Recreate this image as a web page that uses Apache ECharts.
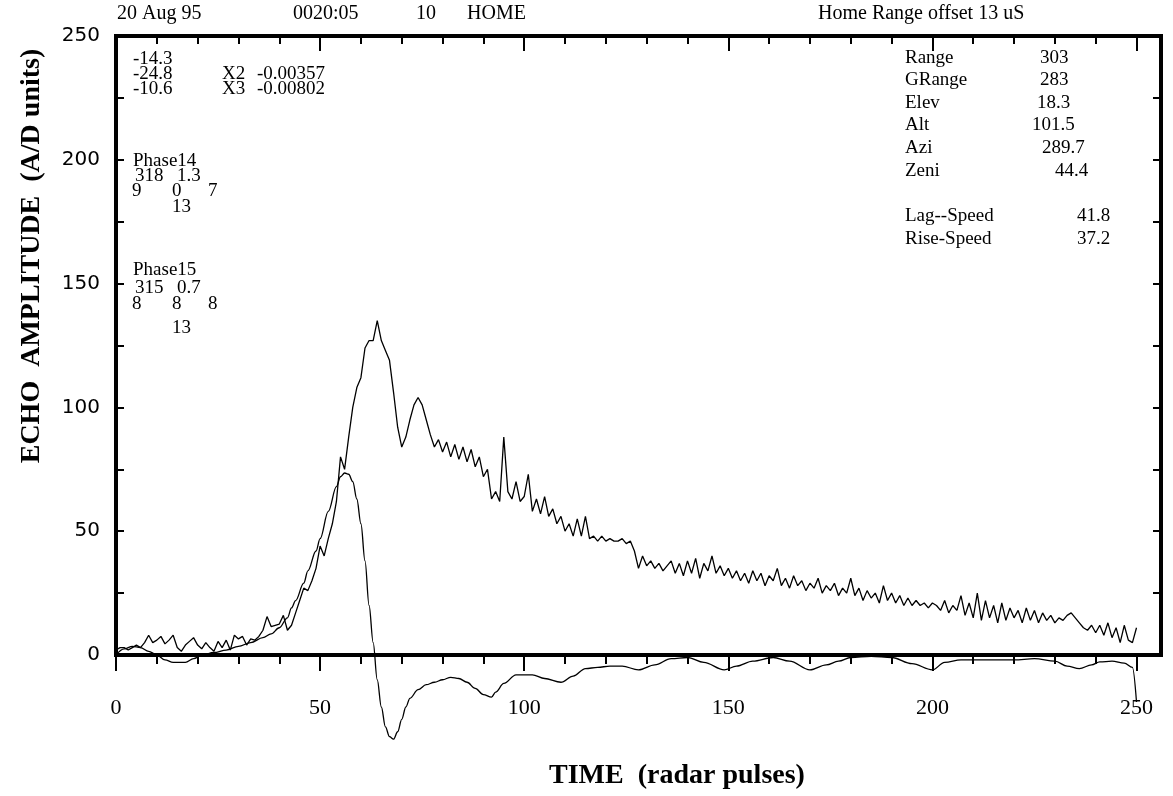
<!DOCTYPE html>
<html>
<head>
<meta charset="utf-8">
<title>Echo amplitude</title>
<script src="https://cdn.jsdelivr.net/npm/echarts@6/dist/echarts.min.js"></script>
<style>
  html, body { margin: 0; padding: 0; background: #fff; }
  #chart { width: 1173px; height: 796px; }
</style>
</head>
<body>
<div id="chart"></div>
<script>
// echo amplitude, one value per radar pulse (0..250)
const echo = [
  2, 3, 3, 2, 3, 4, 3, 5, 8, 5,
  6, 7.5, 4.5, 6, 8, 3, 1.5, 4, 5.5, 7,
  4, 2.5, 5, 3, 1.5, 5.5, 3, 6, 2, 8,
  6.5, 7.5, 4, 6.5, 6, 7.5, 10, 15.5, 11.5, 12,
  12.5, 16, 10, 12, 17, 22, 27, 26, 30, 35,
  44, 40, 47, 53, 62, 80, 75, 88, 100, 108,
  112, 124, 127, 127, 135, 127, 123, 119, 106, 92,
  84, 88, 95, 101, 104, 101, 95, 89, 84, 87,
  82, 86, 80, 85, 79, 84, 78, 83, 76, 80,
  72, 75, 63, 66, 62, 88, 66, 63, 70, 62,
  64, 73, 58, 63, 57, 64, 56, 59, 53, 56,
  50, 53, 48, 55, 48, 56, 47, 48, 46, 48,
  46, 47, 46, 46, 47, 45, 46, 42, 35, 40,
  36, 38, 35, 37, 34, 36, 38, 33, 37, 32,
  38, 33, 39, 31, 37, 34, 40, 33, 36, 32,
  35, 31, 34, 30, 33, 29, 34, 30, 33, 28,
  32, 30, 35, 28, 31, 27, 32, 28, 30, 26,
  29, 27, 31, 25, 28, 26, 29, 24, 27, 25,
  31, 24, 27, 22, 26, 23, 25, 21, 28, 22,
  25, 21, 24, 20, 23, 20, 22, 20, 21, 19,
  21, 20, 18, 22, 17, 20, 18, 24, 16, 21,
  15, 25, 14, 22, 15, 20, 13, 21, 14, 19,
  15, 18, 13, 19, 14, 18, 13, 17, 14, 16,
  13, 15, 14, 16, 17, 15, 13, 11, 10, 12,
  9, 12, 8, 13, 7, 11, 5, 12, 6, 5,
  11
]

// fitted curve [pulse, amplitude]
const fit = [
  [0, 0], [2, 2.5], [4, 3.5], [6, 3], [8, 1.5], [10, 0], [12, -2], [14, -3], [17, -3], [19, -1.5],
  [21, 0], [24, 1], [27, 2], [30, 3.5], [33, 5], [36, 7], [38, 8.5], [40, 11], [42, 15], [43, 19],
  [44, 22], [46, 29], [47, 34], [49, 42], [50, 47], [52, 58], [54, 68], [55, 72], [56, 73.5], [57, 73],
  [58, 70], [59, 63], [60, 53], [61, 38], [62, 20], [63, 5], [64, -10], [65, -21], [66, -29], [67, -33],
  [68, -34], [69, -31], [70, -26], [71, -21], [72, -17.5], [74, -14], [76, -12], [78, -11], [80, -10], [82, -9],
  [84, -9.5], [86, -11], [88, -13.5], [90, -16], [92, -17], [93, -15], [95, -11.5], [98, -8], [102, -8], [105, -9.5],
  [109, -11], [112, -8.5], [115, -5.5], [118, -5], [121, -4.5], [124, -4.5], [128, -6], [132, -4], [136, -1.5], [140, -1],
  [144, -3], [149, -6], [152, -4.5], [156, -2.5], [161, -1], [165, -2.5], [170, -6], [174, -4], [177, -2.5], [180, -1],
  [185, -0.5], [190, -1], [195, -3.5], [200, -6], [203, -3], [207, -2], [212, -2], [220, -2], [225, -1.5], [230, -2.5],
  [233, -4.5], [236, -5.5], [239, -4], [241, -2.8], [244, -2.5], [247, -3.3], [249, -5], [250, -19]
]

const xTicks = [0, 10, 20, 30, 40, 50, 60, 70, 80, 90, 100, 110, 120, 130, 140, 150, 160, 170, 180, 190, 200, 210, 220, 230, 240, 250]
const xLabels = [0, 50, 100, 150, 200, 250]
const yTicks = [0, 25, 50, 75, 100, 125, 150, 175, 200, 225, 250]
const yLabels = [0, 50, 100, 150, 200, 250]

// 注释文字
const header = ['20 Aug 95', '0020:05', '10', 'HOME', 'Home Range offset 13 uS']
const fitStats = ['-14.3', '-24.8', '-10.6']
const coefNames = ['X2', 'X3']
const coefValues = ['-0.00357', '-0.00802']
const phase14 = ['Phase14', '318', '1.3', '9', '0', '7', '13']
const phase15 = ['Phase15', '315', '0.7', '8', '8', '8', '13']
const infoNames = ['Range', 'GRange', 'Elev', 'Alt', 'Azi', 'Zeni', 'Lag--Speed', 'Rise-Speed']
const infoValues = ['303', '283', '18.3', '101.5', '289.7', '44.4', '41.8', '37.2']

const serif = '"Liberation Serif", "Times New Roman", serif'
const txt = (text, x, y, size, opts) => Object.assign({
  type: 'text',
  x: x,
  y: y,
  silent: true,
  style: {
    text: text,
    font: (opts && opts.weight ? opts.weight + ' ' : '') + size + 'px ' + serif,
    fill: '#000',
    textAlign: (opts && opts.align) || 'left',
    textVerticalAlign: 'middle'
  }
}, opts && opts.rotation ? { rotation: opts.rotation } : {})

const graphics = []
// 顶部标题行
const headerX = [117, 293, 416, 467, 818]
header.forEach((s, i) => graphics.push(txt(s, headerX[i], 14, 20)))
// 左上角
const statY = [59, 74, 89]
fitStats.forEach((s, i) => graphics.push(txt(s, 133, statY[i], 19)))
coefNames.forEach((s, i) => {
  graphics.push(txt(s, 222, statY[i + 1], 19))
  graphics.push(txt(coefValues[i], 257, statY[i + 1], 19))
})
const phaseX = [133, 135, 177, 132, 172, 208, 172]
const phaseRow = [0, 1, 1, 2, 2, 2, 3]
const p14Y = [161, 176, 191, 207]
const p15Y = [270, 288, 304, 328]
phase14.forEach((s, i) => graphics.push(txt(s, phaseX[i], p14Y[phaseRow[i]], 19)))
phase15.forEach((s, i) => graphics.push(txt(s, phaseX[i], p15Y[phaseRow[i]], 19)))
// 右上角
const infoY = [58, 80, 103, 125, 148, 171, 216, 239]
const valueX = [1040, 1040, 1037, 1032, 1042, 1055, 1077, 1077]
infoNames.forEach((s, i) => {
  graphics.push(txt(s, 905, infoY[i], 19))
  graphics.push(txt(infoValues[i], valueX[i], infoY[i], 19))
})
// 坐标轴标题
graphics.push(txt('ECHO  AMPLITUDE  (A/D units)', 32, 256, 28, { weight: 'bold', align: 'center', rotation: Math.PI / 2 }))
graphics.push(txt('TIME  (radar pulses)', 677, 776, 28, { weight: 'bold', align: 'center' }))

const tickStyle = { color: '#000', width: 2 }
const xBase = {
  type: 'value',
  min: 0,
  max: 256,
  axisLine: { show: false, onZero: false },
  splitLine: { show: false },
  axisLabel: { show: false }
}
const yBase = {
  type: 'value',
  min: 0,
  max: 250,
  axisLine: { show: false, onZero: false },
  splitLine: { show: false },
  axisLabel: { show: false }
}

const chart = echarts.init(document.getElementById('chart'))
chart.setOption({
  animation: false,
  backgroundColor: '#fff',
  grid: {
    left: 116,
    top: 36,
    width: 1045,
    height: 619,
    show: true,
    borderColor: '#000',
    borderWidth: 4,
    containLabel: false
  },
  xAxis: [
    Object.assign({}, xBase, {
      position: 'bottom',
      axisTick: { customValues: xTicks, length: 9, lineStyle: tickStyle },
      axisLabel: {
        show: true,
        customValues: xLabels,
        margin: 42,
        color: '#000',
        fontFamily: serif,
        fontSize: 22
      }
    }),
    Object.assign({}, xBase, {
      position: 'bottom',
      axisTick: { customValues: xLabels, length: 16, lineStyle: tickStyle }
    }),
    Object.assign({}, xBase, {
      position: 'top',
      axisTick: { customValues: xTicks, inside: true, length: 8, lineStyle: tickStyle }
    }),
    Object.assign({}, xBase, {
      position: 'top',
      axisTick: { customValues: xLabels, inside: true, length: 15, lineStyle: tickStyle }
    })
  ],
  yAxis: [
    Object.assign({}, yBase, {
      position: 'left',
      axisTick: { customValues: yTicks, inside: true, length: 8, lineStyle: tickStyle },
      axisLabel: {
        show: true,
        customValues: yLabels,
        margin: 16,
        color: '#000',
        fontFamily: '"DejaVu Sans", sans-serif',
        fontSize: 20
      }
    }),
    Object.assign({}, yBase, {
      position: 'right',
      axisTick: { customValues: yTicks, inside: true, length: 8, lineStyle: tickStyle }
    })
  ],
  series: [
    {
      name: 'echo',
      type: 'line',
      xAxisIndex: 0,
      yAxisIndex: 0,
      data: echo.map((v, i) => [i, v]),
      symbol: 'none',
      lineStyle: { color: '#000', width: 1.3 },
      silent: true
    },
    {
      name: 'fit',
      type: 'line',
      xAxisIndex: 0,
      yAxisIndex: 0,
      data: fit,
      symbol: 'none',
      smooth: 0.35,
      smoothMonotone: 'x',
      clip: false,
      lineStyle: { color: '#000', width: 1.3 },
      silent: true
    }
  ],
  graphic: graphics
})
</script>
</body>
</html>
